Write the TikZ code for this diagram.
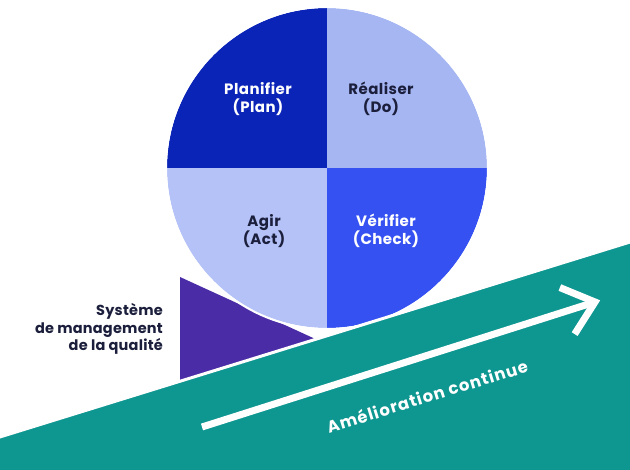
\documentclass[tikz,border=0pt]{standalone}
\usepackage{fontspec}
\setmainfont{Poppins}
\usetikzlibrary{calc}
\definecolor{qPlan}{HTML}{0B24B8}
\definecolor{qDo}{HTML}{A5B6F3}
\definecolor{qAct}{HTML}{B4C2F7}
\definecolor{qCheck}{HTML}{3551F2}
\definecolor{sysPurple}{HTML}{4A2CA6}
\definecolor{slopeTeal}{HTML}{0E9690}
\definecolor{darkText}{HTML}{1C1F3C}
\tikzset{
  qlabel/.style={align=center, font=\fontsize{15}{18.5}\selectfont\bfseries\addfontfeatures{LetterSpace=3}, inner sep=0pt},
  sideLabel/.style={align=right, font=\fontsize{14.5}{17.5}\selectfont\bfseries\addfontfeatures{LetterSpace=1.5}, text=darkText, inner sep=0pt, anchor=east},
  slopeLabel/.style={font=\fontsize{16.5}{18}\selectfont\bfseries\addfontfeatures{LetterSpace=6}, text=white, inner sep=0pt, rotate=17.2},
  arrowLine/.style={draw=white, line width=7pt, line join=miter, miter limit=10}
}
\begin{document}
\begin{tikzpicture}[x=1pt, y=-1pt]
\useasboundingbox (0,0) rectangle (630,470);
\fill[white] (0,0) rectangle (630,470);
% purple wedge
\fill[sysPurple] (180,277) -- (335,348) -- (180,410) -- cycle;
% circle quadrants
\coordinate (c) at (327,168);
\begin{scope}
  \clip (c) circle (160);
  \fill[qPlan] (160,0) rectangle (327,168);
  \fill[qDo] (327,0) rectangle (495,168);
  \fill[qAct] (160,168) rectangle (327,335);
  \fill[qCheck] (327,168) rectangle (495,335);
\end{scope}
\draw[white, line width=2pt] (c) circle (161);
% teal slope
\fill[slopeTeal, draw=white, line width=3pt] (-5,438.5) -- (635,240.5) -- (635,475) -- (-5,475) -- cycle;
% labels in circle
\node[qlabel, text=white] (plan) at (258,99) {Planifier\\(Plan)};
\node[qlabel, text=darkText] (do) at (381,99) {Réaliser\\(Do)};
\node[qlabel, text=darkText] (act) at (264,231) {Agir\\(Act)};
\node[qlabel, text=white] (check) at (386,231) {Vérifier\\(Check)};
% side label
\node[sideLabel] (sys) at (163,329) {Système\\de management\\de la qualité};
% arrow
\coordinate (as) at (202,427);
\coordinate (ae) at (595,302);
\coordinate (armA) at ($(ae)!38pt!40:(as)$);
\coordinate (armB) at ($(ae)!38pt!-40:(as)$);
\draw[arrowLine] (as) -- (ae);
\draw[arrowLine] (armA) -- (ae) -- (armB);
\node[slopeLabel] (amel) at (427,396) {Amélioration continue};
\end{tikzpicture}
\end{document}
